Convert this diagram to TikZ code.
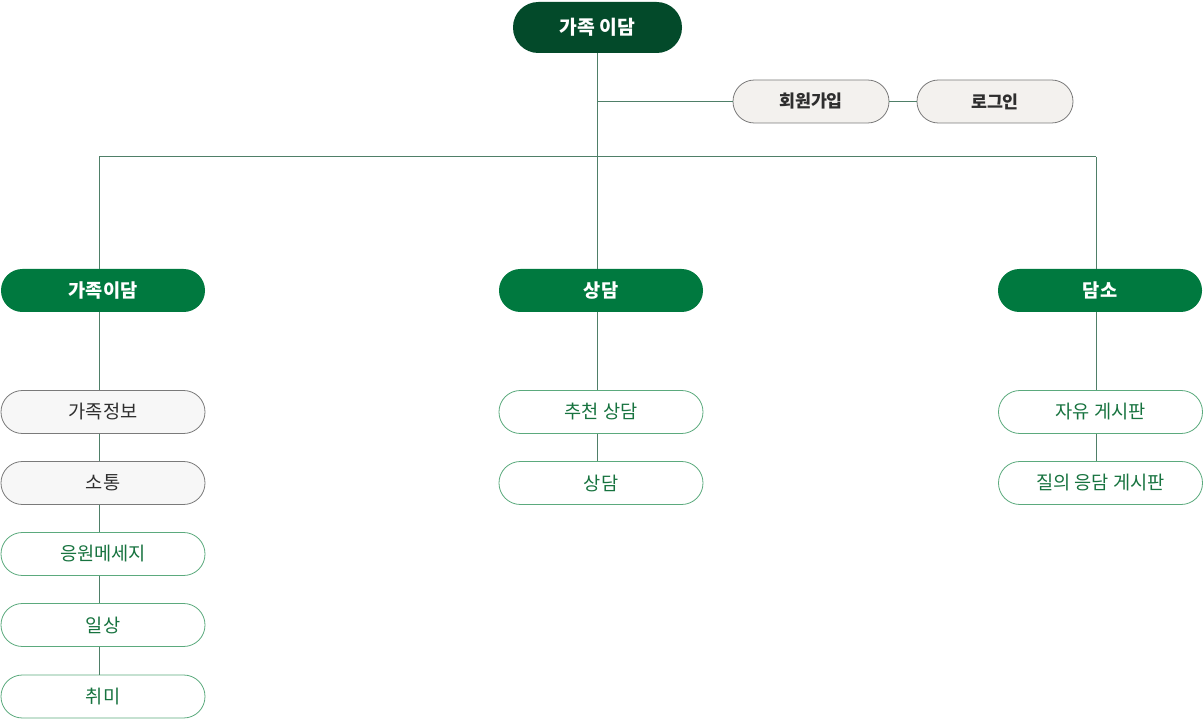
\documentclass[tikz,border=0pt]{standalone}
\usepackage{fontspec}
\setmainfont{Noto Sans CJK KR}
\usetikzlibrary{calc}
\definecolor{topgreen}{HTML}{034A2A}
\definecolor{maingreen}{HTML}{00793F}
\definecolor{linecol}{HTML}{4F7F68}
\definecolor{greenline}{HTML}{5BAA7D}
\definecolor{greentext}{HTML}{17733F}
\definecolor{beige}{HTML}{F3F1EE}
\definecolor{lightgray}{HTML}{F7F7F7}
\definecolor{graybord}{HTML}{7A7A7A}
\definecolor{darktext}{HTML}{2E2E2E}
\tikzset{
  pill/.style={rectangle, rounded corners=16pt, inner sep=0pt, font=\fontsize{14}{16}\selectfont, line width=0.6pt},
  topbox/.style={pill, fill=topgreen, text=white, minimum width=126.75pt, minimum height=38.25pt, rounded corners=19pt, font=\fontsize{14.5}{16}\bfseries\selectfont},
  authbox/.style={pill, fill=beige, draw=graybord, text=darktext, minimum width=117pt, minimum height=32.25pt, font=\fontsize{13}{15}\bfseries\selectfont},
  mainbox/.style={pill, fill=maingreen, text=white, minimum width=153pt, minimum height=32.25pt, font=\fontsize{14}{16}\bfseries\selectfont},
  graybox/.style={pill, fill=lightgray, draw=graybord, text=darktext, minimum width=153pt, minimum height=32.25pt},
  greenbox/.style={pill, fill=white, draw=greenline, text=greentext, minimum width=153pt, minimum height=32.25pt},
  conn/.style={draw=linecol, line width=0.75pt}
}
\begin{document}
\begin{tikzpicture}[x=0.75pt, y=-0.75pt]
\useasboundingbox (0,0) rectangle (1204,720);
% line x positions
\coordinate (L) at (99,0);
\coordinate (M) at (597.5,0);
\coordinate (R) at (1096,0);

\node[topbox] (top) at (597.5,27.5) {가족 이담};
\node[authbox] (join) at (811,101.5) {회원가입};
\node[authbox] (login) at (995,101.5) {로그인};

\node[mainbox] (fam) at (103,290.5) {가족이담};
\node[mainbox] (cons) at (601,290.5) {상담};
\node[mainbox] (talk) at (1100,290.5) {담소};

\node[graybox] (info) at (103,412) {가족정보};
\node[graybox] (comm) at (103,483) {소통};
\node[greenbox] (cheer) at (103,554) {응원메세지};
\node[greenbox] (daily) at (103,625) {일상};
\node[greenbox] (hobby) at (103,696.5) {취미};

\node[greenbox] (rec) at (601,412) {추천 상담};
\node[greenbox] (cons2) at (601,483) {상담};

\node[greenbox] (free) at (1100.5,412) {자유 게시판};
\node[greenbox] (qna) at (1100.5,483) {질의 응담 게시판};

\coordinate (hubL) at (99,157);
\coordinate (hubR) at (1096,157);

\draw[conn] (top.south -| M) -- (cons.north -| M);
\draw[conn] (top.south -| M) |- (join.west);
\draw[conn] (join.east) -- (login.west);
\draw[conn] (hubL) -- (hubR);
\draw[conn] (hubL) -- (fam.north -| L);
\draw[conn] (hubR) -- (talk.north -| R);

\draw[conn] (fam.south -| L) -- (info.north -| L);
\draw[conn] (info.south -| L) -- (comm.north -| L);
\draw[conn] (comm.south -| L) -- (cheer.north -| L);
\draw[conn] (cheer.south -| L) -- (daily.north -| L);
\draw[conn] (daily.south -| L) -- (hobby.north -| L);

\draw[conn] (cons.south -| M) -- (rec.north -| M);
\draw[conn] (rec.south -| M) -- (cons2.north -| M);

\draw[conn] (talk.south -| R) -- (free.north -| R);
\draw[conn] (free.south -| R) -- (qna.north -| R);
\end{tikzpicture}
\end{document}
